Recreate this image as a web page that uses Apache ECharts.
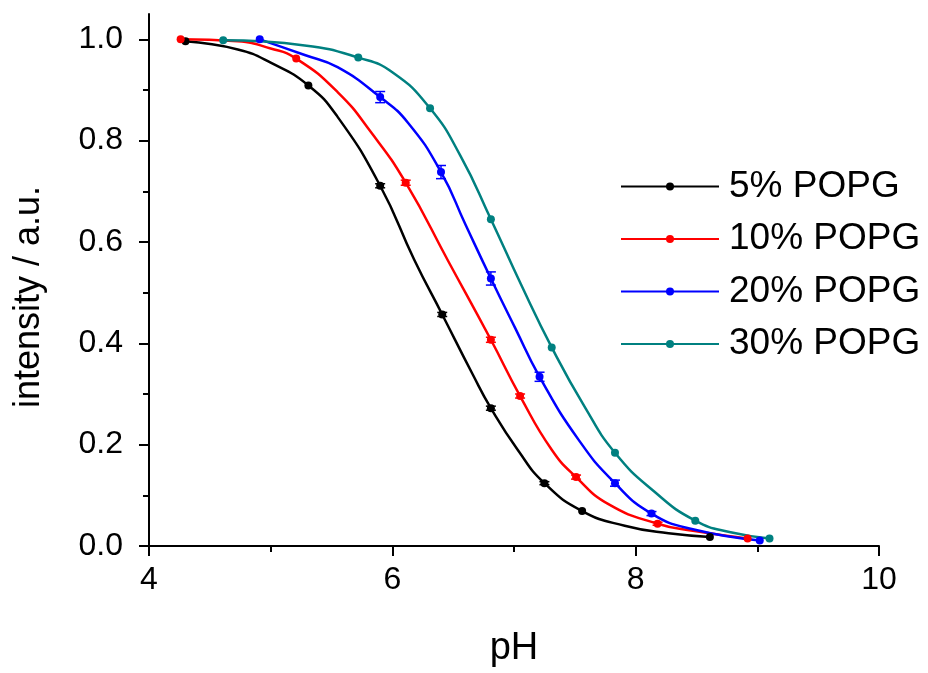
<!DOCTYPE html>
<html>
<head>
<meta charset="utf-8">
<script src="https://cdn.jsdelivr.net/npm/echarts@6/dist/echarts.min.js"></script>
<style>
html,body{margin:0;padding:0;background:#fff;}
#c{width:928px;height:673px;}
</style>
</head>
<body>
<div id="c"></div>
<script>
// ---- data ----
const seriesNames = ['5% POPG', '10% POPG', '20% POPG', '30% POPG'];
const seriesColors = ['#000000', '#ff0000', '#0000ff', '#008080'];

// measured points [pH, intensity]
const pts5  = [[4.30,0.996],[5.31,0.909],[5.90,0.711],[6.41,0.457],[6.81,0.272],[7.25,0.124],[7.56,0.069],[8.61,0.018]];
const pts10 = [[4.26,1.000],[5.21,0.962],[6.11,0.717],[6.81,0.407],[7.05,0.296],[7.51,0.136],[8.18,0.044],[8.92,0.015]];
const pts20 = [[4.91,1.000],[5.90,0.886],[6.40,0.738],[6.81,0.528],[7.21,0.334],[7.83,0.124],[8.13,0.064],[9.02,0.011]];
const pts30 = [[4.61,0.998],[5.72,0.964],[6.31,0.864],[6.81,0.645],[7.31,0.392],[7.83,0.184],[8.49,0.050],[9.10,0.015]];

// error bars (± intensity) for the measured points
const err5  = [0,0,0.004,0.004,0.004,0.003,0,0];
const err10 = [0,0,0.005,0.005,0.004,0.004,0.003,0];
const err20 = [0,0.011,0.013,0.013,0.009,0.006,0.004,0];
const err30 = [0,0,0,0,0,0,0,0];

// fitted curves [pH, intensity]
const fit5  = [[4.30,0.996],[4.73,0.980],[5.00,0.954],[5.31,0.909],[5.55,0.847],[5.90,0.711],[6.18,0.565],[6.41,0.457],[6.66,0.339],[6.81,0.272],[7.03,0.190],[7.25,0.124],[7.56,0.069],[7.91,0.040],[8.27,0.025],[8.61,0.018]];
const fit10 = [[4.26,1.000],[4.73,0.996],[5.00,0.982],[5.21,0.962],[5.55,0.896],[5.83,0.815],[6.11,0.717],[6.46,0.562],[6.81,0.407],[7.05,0.296],[7.31,0.190],[7.51,0.136],[7.78,0.082],[8.18,0.044],[8.47,0.030],[8.92,0.015]];
const fit20 = [[4.91,1.000],[5.28,0.969],[5.55,0.945],[5.90,0.886],[6.13,0.835],[6.40,0.738],[6.60,0.635],[6.81,0.528],[7.01,0.430],[7.21,0.334],[7.53,0.210],[7.83,0.124],[8.13,0.064],[8.47,0.033],[9.02,0.011]];
const fit30 = [[4.61,0.998],[5.28,0.988],[5.72,0.964],[6.00,0.935],[6.31,0.864],[6.56,0.770],[6.81,0.645],[7.06,0.515],[7.31,0.392],[7.58,0.275],[7.83,0.184],[8.15,0.108],[8.49,0.050],[8.78,0.027],[9.10,0.015]];

const xTicks = [4, 6, 8, 10];
const yMajorTicks = [0, 0.2, 0.4, 0.6, 0.8, 1.0];
const yMinorTicks = [0.1, 0.3, 0.5, 0.7, 0.9];

const allPts = [pts5, pts10, pts20, pts30];
const allErr = [err5, err10, err20, err30];
const allFit = [fit5, fit10, fit20, fit30];

const FONT = 'Liberation Sans';
const chart = echarts.init(document.getElementById('c'), null, {renderer: 'canvas'});

const series = [];
seriesNames.forEach((name, i) => {
  series.push({
    name: name, type: 'line', data: allFit[i], smooth: 0.5,
    showSymbol: false, symbol: 'circle', symbolSize: 8,
    lineStyle: {color: seriesColors[i], width: 2.5},
    itemStyle: {color: seriesColors[i]},
    z: 2, animation: false, silent: true
  });
});
seriesNames.forEach((name, i) => {
  const errData = allPts[i].map((p, k) => [p[0], p[1], allErr[i][k]]);
  series.push({
    name: name, type: 'custom', data: errData, z: 3, animation: false, silent: true,
    renderItem: function (params, api) {
      const x = api.value(0), y = api.value(1), e = api.value(2);
      if (!e) return null;
      const top = api.coord([x, y + e]);
      const bot = api.coord([x, y - e]);
      const c = seriesColors[i];
      const hw = 5;
      return {type: 'group', children: [
        {type: 'line', shape: {x1: top[0], y1: top[1], x2: bot[0], y2: bot[1]}, style: {stroke: c, lineWidth: 1.5}},
        {type: 'line', shape: {x1: top[0]-hw, y1: top[1], x2: top[0]+hw, y2: top[1]}, style: {stroke: c, lineWidth: 1.5}},
        {type: 'line', shape: {x1: bot[0]-hw, y1: bot[1], x2: bot[0]+hw, y2: bot[1]}, style: {stroke: c, lineWidth: 1.5}}
      ]};
    }
  });
  series.push({
    name: name, type: 'scatter', data: allPts[i], symbol: 'circle', symbolSize: 8,
    itemStyle: {color: seriesColors[i], opacity: 1}, z: 4, animation: false, silent: true
  });
});

const axisLineStyle = {color: '#000', width: 2};
chart.setOption({
  animation: false,
  backgroundColor: '#fff',
  grid: {left: 149, right: 49, top: 14, bottom: 121, containLabel: false},
  legend: {
    data: seriesNames,
    orient: 'vertical', left: 615, top: 163,
    itemWidth: 98, itemHeight: 10, itemGap: 15.5,
    textStyle: {fontFamily: FONT, fontSize: 37, color: '#000', padding: [0,0,0,5]},
    selectedMode: false
  },
  xAxis: {
    type: 'value', min: 4, max: 10, interval: 2,
    name: 'pH', nameLocation: 'middle', nameGap: 84,
    nameTextStyle: {fontFamily: FONT, fontSize: 38, color: '#000'},
    axisLine: {show: true, onZero: false, lineStyle: axisLineStyle},
    axisTick: {show: true, inside: false, length: 10, lineStyle: axisLineStyle},
    minorTick: {show: true, splitNumber: 2, length: 6, lineStyle: {color: '#000', width: 2}},
    splitLine: {show: false}, minorSplitLine: {show: false},
    axisLabel: {fontFamily: FONT, fontSize: 32, color: '#000', margin: 18, customValues: xTicks}
  },
  yAxis: [{
    type: 'value', min: 0, max: 1.05,
    name: 'intensity / a.u.', nameLocation: 'middle', nameGap: 102, nameRotate: 90,
    nameTextStyle: {fontFamily: FONT, fontSize: 36, color: '#000', padding: [0, 34, 0, 0]},
    axisLine: {show: true, onZero: false, lineStyle: axisLineStyle},
    axisTick: {show: true, inside: false, length: 10, lineStyle: axisLineStyle, customValues: yMajorTicks},
    splitLine: {show: false},
    axisLabel: {fontFamily: FONT, fontSize: 32, color: '#000', margin: 26, customValues: yMajorTicks,
      formatter: v => v.toFixed(1)}
  }, {
    type: 'value', min: 0, max: 1.05, position: 'left',
    axisLine: {show: false},
    axisTick: {show: true, inside: false, length: 6, lineStyle: axisLineStyle, customValues: yMinorTicks},
    splitLine: {show: false},
    axisLabel: {show: false}
  }],
  series: series
});
</script>
</body>
</html>
